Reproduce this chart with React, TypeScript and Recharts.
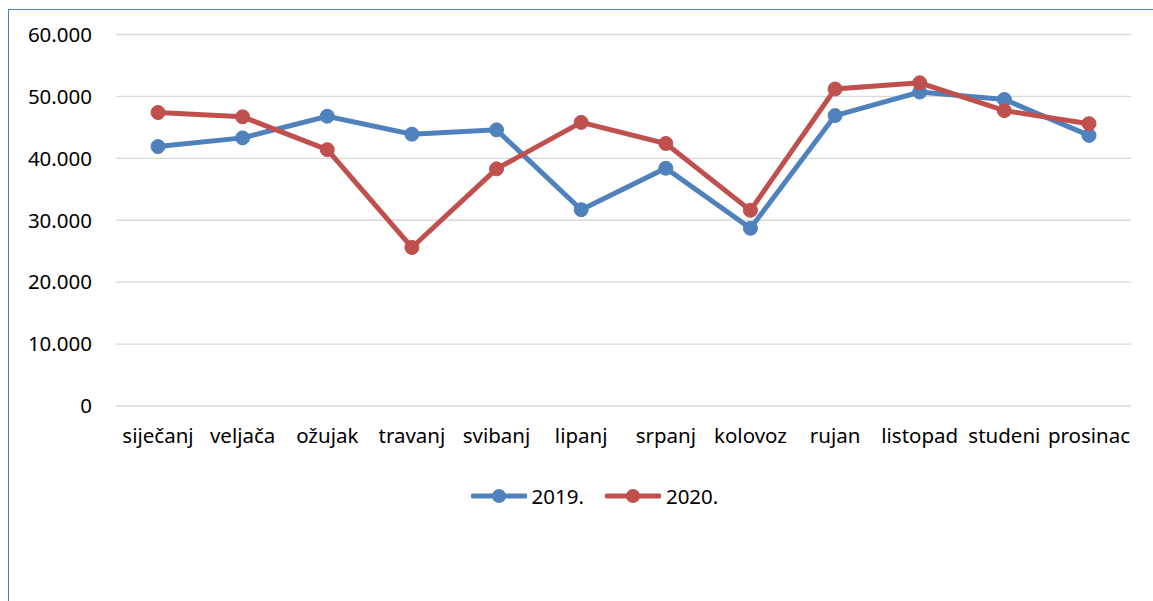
import React from 'react';
import { LineChart, Line, XAxis, YAxis, CartesianGrid, Legend } from 'recharts';

const months = ['siječanj', 'veljača', 'ožujak', 'travanj', 'svibanj', 'lipanj', 'srpanj', 'kolovoz', 'rujan', 'listopad', 'studeni', 'prosinac'];
const y2019 = [41900, 43300, 46800, 43900, 44600, 31700, 38400, 28700, 46900, 50700, 49500, 43700];
const y2020 = [47400, 46700, 41400, 25600, 38300, 45800, 42400, 31600, 51200, 52200, 47700, 45600];
const yTicks = [0, 10000, 20000, 30000, 40000, 50000, 60000];

const BLUE = '#4f81bd';
const RED = '#c0504d';
const FONT = '"Noto Sans", sans-serif';

const data = months.map((m, i) => ({ month: m, a: y2019[i], b: y2020[i] }));

const fmt = (v: number) => String(v).replace(/\B(?=(\d{3})+(?!\d))/g, '.');

const legendItems = [
  { label: '2019.', color: BLUE },
  { label: '2020.', color: RED },
];

const LegendBox = () => (
  <div style={{ height: 40, display: 'flex', alignItems: 'center', paddingLeft: 462, fontFamily: FONT, fontSize: 20.5, color: '#000' }}>
    {legendItems.map((it) => (
      <div key={it.label} style={{ display: 'flex', alignItems: 'center', marginRight: 21 }}>
        <svg width={56} height={16} style={{ marginRight: 5 }}>
          <line x1={2} y1={8} x2={54} y2={8} stroke={it.color} strokeWidth={5} strokeLinecap="round" />
          <circle cx={28} cy={8} r={7} fill={it.color} />
        </svg>
        <span>{it.label}</span>
      </div>
    ))}
  </div>
);

export default function App() {
  return (
    <div style={{ position: 'fixed', left: 7.5, top: 9, width: 1200, height: 700, borderTop: '1.5px solid #4a7ebb', borderLeft: '1.5px solid #4a7ebb', background: '#fff' }}>
      <LineChart width={1130} height={560} data={data} margin={{ top: 24.5, right: 8, bottom: 54, left: 0 }}>
        <CartesianGrid vertical={false} stroke="#d9d9d9" strokeWidth={1.3} />
        <XAxis dataKey="month" axisLine={false} tickLine={false} height={70} padding={{ left: 42, right: 42 }}
          interval={0} tickMargin={16} tick={{ fontFamily: FONT, fontSize: 20.5, fill: '#000' }} />
        <YAxis width={107} domain={[0, 60000]} ticks={yTicks} tickFormatter={fmt} axisLine={false} tickLine={false}
          tickMargin={18} tick={{ fontFamily: FONT, fontSize: 20.5, fill: '#000' }} />
        <Legend verticalAlign="bottom" content={() => <LegendBox />} />
        <Line dataKey="a" name="2019." stroke={BLUE} strokeWidth={5} dot={{ r: 7, fill: BLUE, stroke: BLUE, strokeWidth: 1 }} isAnimationActive={false} />
        <Line dataKey="b" name="2020." stroke={RED} strokeWidth={5} dot={{ r: 7, fill: RED, stroke: RED, strokeWidth: 1 }} isAnimationActive={false} />
      </LineChart>
    </div>
  );
}
